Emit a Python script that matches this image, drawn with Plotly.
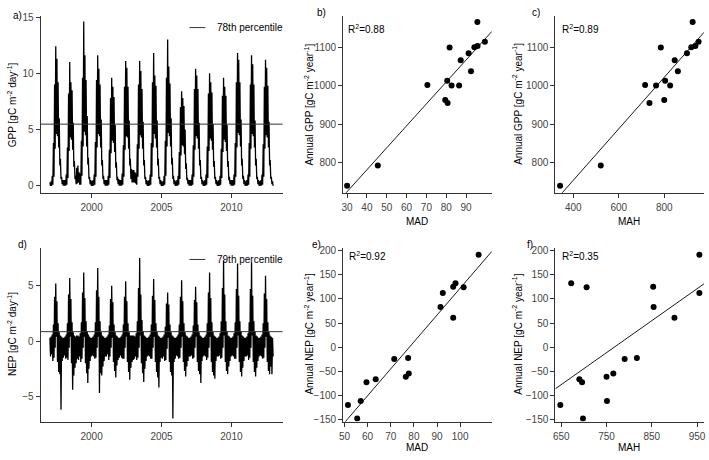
import numpy as np
import plotly.graph_objects as go

# ---------------- data ----------------
YEARS = list(range(1997, 2013))

# monthly upper / lower envelope of daily GPP (gC m-2 day-1), Jan..Dec
GPP_HI = [
    [0.3, 0.4, 0.9, 3.8, 9.0, 12.4, 11.3, 9.2, 6.0, 2.4, 0.8, 0.5],
    [0.5, 0.5, 1.0, 3.4, 8.2, 11.0, 9.2, 8.5, 5.6, 2.2, 0.9, 1.6],
    [1.8, 1.2, 1.1, 4.0, 9.6, 14.6, 11.6, 9.4, 6.2, 2.5, 0.8, 0.5],
    [0.4, 0.5, 1.0, 3.9, 9.4, 11.6, 10.4, 9.0, 5.9, 2.3, 0.9, 0.5],
    [0.5, 0.5, 0.9, 3.2, 7.8, 9.6, 8.8, 7.9, 5.4, 2.1, 0.8, 0.6],
    [0.5, 0.5, 1.1, 3.6, 8.8, 11.1, 10.5, 8.8, 5.8, 2.4, 1.5, 1.4],
    [1.4, 1.2, 1.1, 3.7, 9.0, 11.1, 10.2, 8.6, 5.7, 2.3, 0.8, 0.5],
    [0.4, 0.5, 1.0, 3.8, 9.2, 11.8, 9.8, 8.9, 5.8, 2.4, 0.8, 0.5],
    [0.4, 0.4, 0.9, 4.0, 9.6, 13.0, 10.6, 9.1, 6.0, 2.5, 0.9, 0.5],
    [0.4, 0.5, 0.9, 3.0, 7.0, 8.4, 7.8, 7.1, 5.0, 2.0, 0.7, 0.5],
    [0.5, 0.5, 1.0, 3.6, 8.6, 10.4, 9.8, 8.6, 5.6, 2.3, 0.8, 0.5],
    [0.4, 0.5, 1.0, 3.5, 8.2, 10.0, 9.2, 8.3, 5.5, 2.2, 0.8, 0.5],
    [0.4, 0.5, 0.9, 3.3, 8.0, 9.6, 8.8, 8.0, 5.4, 2.2, 0.8, 0.5],
    [0.5, 0.5, 1.0, 3.8, 9.2, 11.8, 11.2, 9.2, 5.9, 2.4, 0.9, 0.5],
    [0.4, 0.5, 1.0, 3.8, 9.0, 11.6, 10.8, 9.0, 5.8, 2.4, 0.8, 0.5],
    [0.4, 0.5, 1.0, 3.7, 8.8, 11.2, 10.5, 8.9, 5.7, 2.3, 0.8, 0.4],
]
GPP_LO = [
    [0.0, 0.0, 0.1, 0.8, 3.3, 4.6, 4.4, 3.4, 1.8, 0.6, 0.15, 0.0],
    [0.0, 0.0, 0.1, 0.7, 3.1, 4.3, 4.1, 3.2, 1.7, 0.6, 0.15, 0.2],
    [0.3, 0.1, 0.1, 0.9, 3.5, 4.8, 4.5, 3.5, 1.9, 0.6, 0.15, 0.0],
    [0.0, 0.0, 0.1, 0.8, 3.4, 4.6, 4.4, 3.4, 1.8, 0.6, 0.15, 0.0],
    [0.0, 0.0, 0.1, 0.7, 2.9, 4.0, 3.8, 3.0, 1.6, 0.5, 0.15, 0.0],
    [0.0, 0.0, 0.1, 0.8, 3.2, 4.4, 4.3, 3.3, 1.8, 0.6, 0.3, 0.3],
    [0.3, 0.2, 0.1, 0.8, 3.3, 4.5, 4.3, 3.3, 1.8, 0.6, 0.15, 0.0],
    [0.0, 0.0, 0.1, 0.8, 3.4, 4.6, 4.2, 3.4, 1.8, 0.6, 0.15, 0.0],
    [0.0, 0.0, 0.1, 0.9, 3.5, 4.7, 4.4, 3.5, 1.9, 0.6, 0.15, 0.0],
    [0.0, 0.0, 0.1, 0.6, 2.7, 3.6, 3.5, 2.8, 1.5, 0.5, 0.15, 0.0],
    [0.0, 0.0, 0.1, 0.8, 3.2, 4.4, 4.2, 3.3, 1.8, 0.6, 0.15, 0.0],
    [0.0, 0.0, 0.1, 0.7, 3.1, 4.2, 4.0, 3.2, 1.7, 0.6, 0.15, 0.0],
    [0.0, 0.0, 0.1, 0.7, 3.0, 4.1, 3.9, 3.1, 1.7, 0.5, 0.15, 0.0],
    [0.0, 0.0, 0.1, 0.8, 3.4, 4.7, 4.5, 3.5, 1.8, 0.6, 0.15, 0.0],
    [0.0, 0.0, 0.1, 0.8, 3.3, 4.6, 4.4, 3.4, 1.8, 0.6, 0.15, 0.0],
    [0.0, 0.0, 0.1, 0.8, 3.3, 4.5, 4.3, 3.4, 1.8, 0.6, 0.15, 0.0],
]

# monthly upper / lower envelope of daily NEP (gC m-2 day-1), Jan..Dec
NEP_HI = [
    [0.3, 0.4, 0.6, 1.5, 4.0, 5.2, 3.6, 1.6, 0.8, 0.5, 0.4, 0.3],
    [0.3, 0.4, 0.6, 1.6, 4.2, 5.7, 3.8, 1.7, 0.8, 0.5, 0.4, 0.5],
    [0.5, 0.4, 0.7, 1.7, 4.4, 6.2, 3.9, 1.8, 0.9, 0.6, 0.4, 0.3],
    [0.3, 0.4, 0.6, 1.7, 4.6, 6.6, 4.0, 1.8, 0.8, 0.5, 0.4, 0.3],
    [0.3, 0.4, 0.6, 1.4, 3.8, 5.0, 3.5, 1.5, 0.8, 0.5, 0.4, 0.3],
    [0.3, 0.4, 0.6, 1.5, 4.0, 5.4, 3.6, 1.6, 0.8, 0.5, 0.5, 0.5],
    [0.5, 0.4, 0.7, 1.8, 4.8, 7.5, 4.2, 1.9, 0.9, 0.5, 0.4, 0.3],
    [0.3, 0.4, 0.6, 1.5, 4.1, 5.6, 3.7, 1.6, 0.8, 0.5, 0.4, 0.3],
    [0.3, 0.4, 0.6, 1.3, 3.4, 4.4, 3.3, 1.5, 0.8, 0.5, 0.4, 0.3],
    [0.3, 0.4, 0.6, 1.5, 4.0, 5.5, 3.6, 1.6, 0.8, 0.5, 0.4, 0.3],
    [0.3, 0.4, 0.6, 1.4, 3.7, 4.9, 3.5, 1.5, 0.8, 0.5, 0.4, 0.3],
    [0.3, 0.4, 0.6, 1.6, 4.4, 6.2, 3.9, 1.7, 0.8, 0.5, 0.4, 0.3],
    [0.3, 0.4, 0.7, 1.8, 4.8, 7.3, 4.2, 1.8, 0.9, 0.5, 0.4, 0.3],
    [0.3, 0.4, 0.7, 1.7, 4.7, 7.0, 4.1, 1.8, 0.9, 0.5, 0.4, 0.3],
    [0.3, 0.4, 0.7, 1.7, 4.7, 7.1, 4.1, 1.8, 0.9, 0.5, 0.4, 0.3],
    [0.3, 0.4, 0.6, 1.6, 4.3, 5.9, 3.8, 1.7, 0.8, 0.5, 0.4, 0.3],
]
NEP_LO = [
    [-1.4, -1.2, -1.8, -1.5, -0.6, 0.4, -1.9, -2.8, -3.0, -6.2, -1.8, -1.5],
    [-1.3, -1.6, -1.5, -1.7, -0.6, 0.4, -2.0, -4.4, -3.1, -2.4, -2.0, -1.6],
    [-1.7, -1.4, -1.9, -1.6, -0.6, 0.4, -2.0, -2.9, -3.8, -2.5, -1.8, -1.4],
    [-1.3, -1.4, -1.6, -1.5, -0.6, 0.4, -4.7, -2.9, -3.1, -2.3, -1.8, -1.4],
    [-1.4, -1.2, -1.7, -1.4, -0.6, 0.3, -1.9, -2.7, -3.3, -2.2, -1.7, -1.5],
    [-1.3, -1.5, -1.6, -1.6, -0.6, 0.4, -1.9, -2.8, -3.5, -2.4, -1.9, -1.7],
    [-1.6, -1.4, -1.7, -1.5, -0.6, 0.5, -2.0, -2.9, -3.7, -2.5, -1.8, -1.4],
    [-1.3, -1.4, -1.6, -1.6, -0.6, 0.4, -1.9, -2.8, -3.3, -4.2, -1.9, -1.5],
    [-1.6, -1.4, -1.8, -1.7, -0.7, 0.3, -1.9, -2.8, -3.1, -7.0, -1.9, -1.6],
    [-1.3, -1.4, -1.6, -1.5, -0.6, 0.4, -1.9, -2.7, -3.2, -2.3, -1.8, -1.4],
    [-1.4, -1.3, -1.6, -1.5, -0.6, 0.4, -1.9, -2.7, -3.0, -3.8, -1.8, -1.4],
    [-1.3, -1.4, -1.7, -1.5, -0.6, 0.4, -1.9, -2.8, -3.1, -3.4, -1.8, -1.4],
    [-1.4, -1.3, -1.6, -1.5, -0.6, 0.5, -1.9, -2.7, -3.0, -2.3, -1.8, -1.4],
    [-1.3, -1.4, -1.6, -1.6, -0.6, 0.5, -1.9, -2.8, -3.2, -2.4, -1.8, -1.4],
    [-1.4, -1.3, -1.7, -1.5, -0.6, 0.5, -1.9, -2.8, -3.2, -2.4, -1.8, -1.4],
    [-1.3, -1.4, -1.6, -1.5, -0.6, 0.4, -1.9, -2.7, -3.0, -2.3, -3.0, -1.4],
]

GPP_P78 = 5.48
NEP_P79 = 0.85

# annual values (one per year)
GPP_ANNUAL = [739, 792, 1002, 963, 955, 1013, 1100, 1001, 1001, 1067, 1085, 1038, 1101, 1167, 1104, 1115]
MAD_GPP = [30.0, 45.5, 70.5, 79.5, 80.7, 80.5, 81.7, 82.7, 86.5, 87.3, 91.3, 92.5, 94.2, 95.7, 95.8, 99.5]
MAH_GPP = [342, 521, 716, 800, 735, 804, 785, 764, 826, 846, 900, 860, 919, 925, 937, 951]

NEP_ANNUAL = [-119, -147, -111, -72, -66, -24, -61, -22, -54, 83, 112, 125, 132, 61, 124, 191]
MAD_NEP = [51.5, 55.5, 57.0, 59.5, 63.5, 71.5, 76.5, 77.5, 77.8, 91.5, 92.5, 97.0, 98.0, 97.0, 101.5, 108.0]
MAH_NEP = [648, 698, 751, 696, 690, 790, 750, 817, 765, 854, 955, 853, 672, 900, 706, 955]

R2_LABELS = ["R<sup>2</sup>=0.88", "R<sup>2</sup>=0.89", "R<sup>2</sup>=0.92", "R<sup>2</sup>=0.35"]

# ---------------- figure ----------------
W, H = 709, 460
FONT = "Liberation Sans, Arial, sans-serif"


def px(x):
    return x / W


def py(y):
    return 1 - y / H


def zig(hi, lo):
    xs, ys = [], []
    for yi, yr in enumerate(YEARS):
        for m in range(12):
            xs.append(yr + (m + 0.25) / 12)
            ys.append(hi[yi][m])
            xs.append(yr + (m + 0.75) / 12)
            ys.append(lo[yi][m])
    return xs, ys


fig = go.Figure()

# time series
gx, gy = zig(GPP_HI, GPP_LO)
fig.add_trace(go.Scatter(x=gx, y=gy, mode="lines", line=dict(color="black", width=1.3),
                         xaxis="x", yaxis="y", showlegend=False))
nx, ny = zig(NEP_HI, NEP_LO)
fig.add_trace(go.Scatter(x=nx, y=ny, mode="lines", line=dict(color="black", width=1.3),
                         xaxis="x4", yaxis="y4", showlegend=False))

RANGES = {
    "x": [1996.36, 2013.66], "y": [-0.61, 15.11],
    "x4": [1996.36, 2013.66], "y4": [-7.28, 8.44],
    "x2": [28.0, 103.0], "y2": [721, 1183],
    "x3": [321, 975], "y3": [721, 1183],
    "x5": [49.4, 113.7], "y5": [-153.4, 205.5],
    "x6": [636.9, 965.3], "y6": [-153.4, 205.5],
}


def scatter_panel(xv, yv, xa, ya):
    fig.add_trace(go.Scatter(x=xv, y=yv, mode="markers",
                             marker=dict(color="black", size=6),
                             xaxis=xa, yaxis=ya, showlegend=False))
    k, b = np.polyfit(np.array(xv, float), np.array(yv, float), 1)
    r = RANGES[xa]
    fig.add_trace(go.Scatter(x=[r[0], r[1]], y=[k * r[0] + b, k * r[1] + b], mode="lines",
                             line=dict(color="black", width=0.9),
                             xaxis=xa, yaxis=ya, showlegend=False))


scatter_panel(MAD_GPP, GPP_ANNUAL, "x2", "y2")
scatter_panel(MAH_GPP, GPP_ANNUAL, "x3", "y3")
scatter_panel(MAD_NEP, NEP_ANNUAL, "x5", "y5")
scatter_panel(MAH_NEP, NEP_ANNUAL, "x6", "y6")

base = dict(showline=True, linecolor="#333", linewidth=1, ticks="outside", ticklen=4,
            tickcolor="#333", tickwidth=1, showgrid=False, zeroline=False,
            tickfont=dict(size=10, color="#444", family=FONT))
xbase = dict(base, ticklabelstandoff=1)

TOP = [py(192), py(12)]
BOT = [py(425), py(248)]
C1 = [px(37), px(281)]
C2 = [px(342), px(492)]
C3 = [px(556), px(706)]

layout_axes = {
    "xaxis": dict(xbase, domain=C1, anchor="y", range=RANGES["x"], tickvals=[2000, 2005, 2010]),
    "yaxis": dict(base, domain=TOP, anchor="x", range=RANGES["y"], tickvals=[0, 5, 10, 15]),
    "xaxis4": dict(xbase, domain=C1, anchor="y4", range=RANGES["x4"], tickvals=[2000, 2005, 2010]),
    "yaxis4": dict(base, domain=BOT, anchor="x4", range=RANGES["y4"], tickvals=[-5, 0, 5]),
    "xaxis2": dict(xbase, domain=C2, anchor="y2", range=RANGES["x2"], tickvals=[30, 40, 50, 60, 70, 80, 90]),
    "yaxis2": dict(base, domain=TOP, anchor="x2", range=RANGES["y2"], tickvals=[800, 900, 1000, 1100]),
    "xaxis3": dict(xbase, domain=C3, anchor="y3", range=RANGES["x3"], tickvals=[400, 600, 800]),
    "yaxis3": dict(base, domain=TOP, anchor="x3", range=RANGES["y3"], tickvals=[800, 900, 1000, 1100]),
    "xaxis5": dict(xbase, domain=C2, anchor="y5", range=RANGES["x5"], tickvals=[50, 60, 70, 80, 90, 100]),
    "yaxis5": dict(base, domain=BOT, anchor="x5", range=RANGES["y5"],
                   tickvals=[-150, -100, -50, 0, 50, 100, 150, 200]),
    "xaxis6": dict(xbase, domain=C3, anchor="y6", range=RANGES["x6"], tickvals=[650, 750, 850, 950]),
    "yaxis6": dict(base, domain=BOT, anchor="x6", range=RANGES["y6"],
                   tickvals=[-150, -100, -50, 0, 50, 100, 150, 200]),
}

shapes = [
    dict(type="line", xref="x domain", yref="y", x0=0, x1=1, y0=GPP_P78, y1=GPP_P78,
         line=dict(color="#333", width=1)),
    dict(type="line", xref="x4 domain", yref="y4", x0=0, x1=1, y0=NEP_P79, y1=NEP_P79,
         line=dict(color="#333", width=1)),
    dict(type="line", xref="paper", yref="paper", x0=px(187), x1=px(203), y0=py(24), y1=py(24),
         line=dict(color="#333", width=1)),
    dict(type="line", xref="paper", yref="paper", x0=px(187), x1=px(203), y0=py(260), y1=py(260),
         line=dict(color="#333", width=1)),
]

ann = []


def text(x, y, s, xanchor="center", angle=0, size=10, color="black"):
    ann.append(dict(x=px(x), y=py(y), xref="paper", yref="paper", text=s, showarrow=False,
                    xanchor=xanchor, yanchor="middle", textangle=angle,
                    font=dict(size=size, color=color, family=FONT)))


# legends
text(213, 24, "78th percentile", xanchor="left")
text(213, 260, "79th percentile", xanchor="left")
# panel letters
text(20, 12, "a)", xanchor="right")
text(314, 9, "b)", xanchor="left")
text(530, 9, "c)", xanchor="left")
text(12, 245, "d)", xanchor="left")
text(309, 245, "e)", xanchor="left")
text(525, 245, "f)", xanchor="left")
# R2
text(345, 25, R2_LABELS[0], xanchor="left")
text(561, 25, R2_LABELS[1], xanchor="left")
text(346, 256, R2_LABELS[2], xanchor="left")
text(561, 256, R2_LABELS[3], xanchor="left")
# y titles
text(8, 102, "GPP [gC m<sup>-2</sup> day<sup>-1</sup>]", angle=-90)
text(8, 336, "NEP [gC m<sup>-2</sup> day<sup>-1</sup>]", angle=-90)
text(308, 102, "Annual GPP [gC m<sup>-2</sup> year<sup>-1</sup>]", angle=-90)
text(518, 102, "Annual GPP [gC m<sup>-2</sup> year<sup>-1</sup>]", angle=-90)
text(308, 336, "Annual NEP [gC m<sup>-2</sup> year<sup>-1</sup>]", angle=-90)
text(518, 336, "Annual NEP [gC m<sup>-2</sup> year<sup>-1</sup>]", angle=-90)
# x titles
text(417, 221, "MAD")
text(630, 221, "MAH")
text(417, 451, "MAD")
text(630, 451, "MAH")

fig.update_layout(width=W, height=H, margin=dict(l=0, r=0, t=0, b=0),
                  paper_bgcolor="white", plot_bgcolor="white",
                  shapes=shapes, annotations=ann, showlegend=False,
                  font=dict(family=FONT, size=10), **layout_axes)

fig.write_html("out.html", config={"displayModeBar": False},
               post_script="document.body.style.margin='0px';document.body.style.overflow='hidden';")
